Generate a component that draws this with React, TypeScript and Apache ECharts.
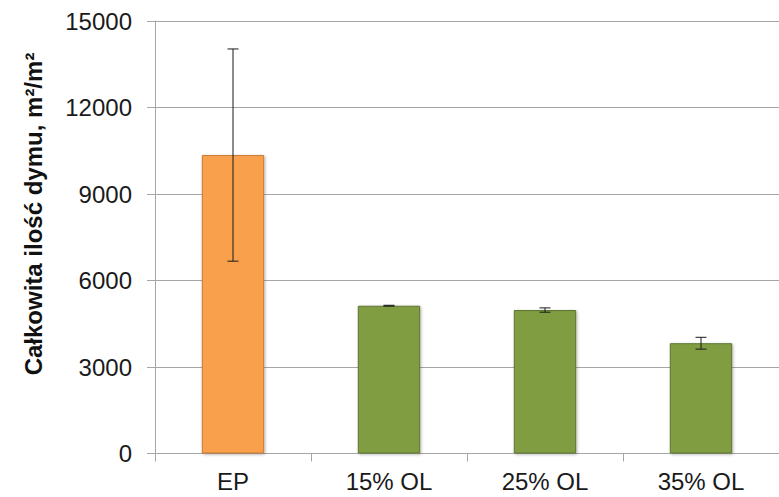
import React, { useEffect, useRef } from "react";
import * as echarts from "echarts";

const categories = ["EP", "15% OL", "25% OL", "35% OL"];
const values = [10350, 5125, 4975, 3825];
const errors = [3680, 15, 75, 205];
const barColors = ["#F9A04E", "#809D43"];
const barBorders = ["#C97A33", "#5E7530"];
const yTicks = { min: 0, max: 15000, interval: 3000 };
const yTitle = "Całkowita ilość dymu, m²/m²";

const FONT = "'Liberation Sans', Arial, sans-serif";

export default function App() {
  const ref = useRef<HTMLDivElement>(null);
  useEffect(() => {
    if (!ref.current) return;
    const chart = echarts.init(ref.current, null, { renderer: "svg" });
    const errData = categories.map((c, i) => [i, values[i] - errors[i], values[i] + errors[i]]);
    chart.setOption({
      animation: false,
      backgroundColor: "#ffffff",
      grid: { left: 155, top: 21, bottom: 43.5, right: -10, containLabel: false },
      xAxis: {
        type: "category",
        data: categories,
        axisLine: { lineStyle: { color: "#A6A6A6", width: 1 } },
        axisTick: { show: true, length: 8, alignWithLabel: false, lineStyle: { color: "#A6A6A6" } },
        axisLabel: { color: "#1a1a1a", fontSize: 24, fontFamily: FONT, margin: 16 },
      },
      yAxis: {
        type: "value",
        min: yTicks.min,
        max: yTicks.max,
        interval: yTicks.interval,
        axisLine: { show: true, lineStyle: { color: "#A6A6A6", width: 1 } },
        axisTick: { show: true, length: 8, lineStyle: { color: "#A6A6A6" } },
        axisLabel: {
          color: "#1a1a1a",
          fontSize: 24,
          fontFamily: FONT,
          margin: 23,
          formatter: (v: number) => String(v),
        },
        splitLine: { show: true, lineStyle: { color: "#A6A6A6", width: 1 } },
      },
      graphic: [
        {
          type: "text",
          x: 33,
          y: 214,
          rotation: Math.PI / 2,
          style: {
            text: yTitle,
            font: `bold 24px ${FONT}`,
            fill: "#111111",
            align: "center",
            verticalAlign: "middle",
          },
        },
      ],
      series: [
        {
          type: "bar",
          barWidth: "40%",
          data: values.map((v, i) => ({
            value: v,
            itemStyle: {
              color: barColors[i === 0 ? 0 : 1],
              borderColor: barBorders[i === 0 ? 0 : 1],
              borderWidth: 1,
              shadowBlur: 3,
              shadowColor: "rgba(0,0,0,0.3)",
              shadowOffsetX: 1,
              shadowOffsetY: 1,
            },
          })),
        },
        {
          type: "custom",
          data: errData,
          z: 10,
          renderItem: (params: any, api: any) => {
            const x = api.value(0);
            const lo = api.coord([x, api.value(1)]);
            const hi = api.coord([x, api.value(2)]);
            const half = 5.5;
            const style = { stroke: "#1a1a1a", lineWidth: 1 };
            return {
              type: "group",
              children: [
                { type: "line", shape: { x1: hi[0], y1: hi[1], x2: lo[0], y2: lo[1] }, style },
                { type: "line", shape: { x1: hi[0] - half, y1: hi[1], x2: hi[0] + half, y2: hi[1] }, style },
                { type: "line", shape: { x1: lo[0] - half, y1: lo[1], x2: lo[0] + half, y2: lo[1] }, style },
              ],
            };
          },
        },
      ],
    });
    return () => chart.dispose();
  }, []);
  return <div ref={ref} style={{ width: 779, height: 497, position: "absolute", left: 0, top: 0 }} />;
}
